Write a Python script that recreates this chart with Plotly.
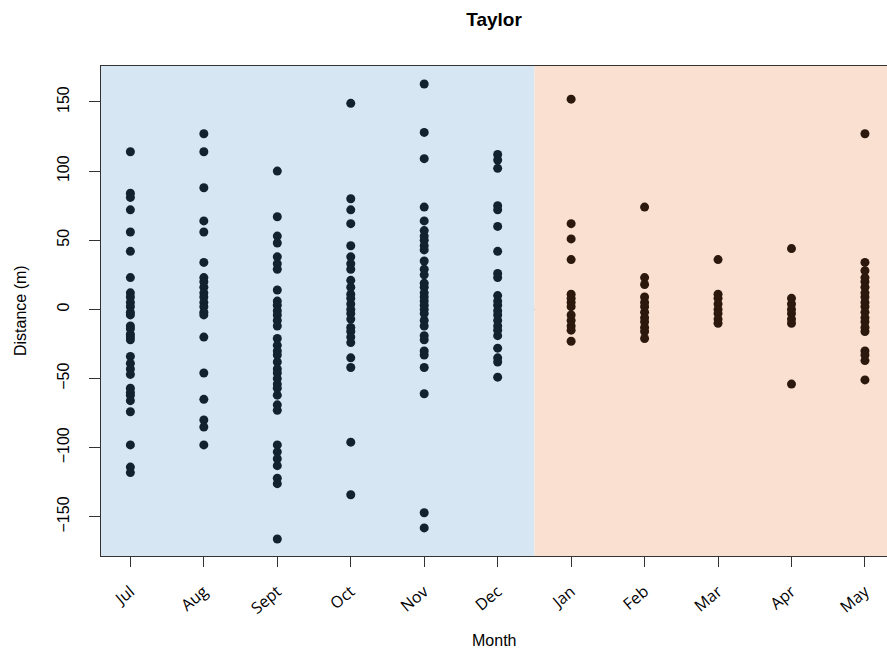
import plotly.graph_objects as go

# Month categories, plotted at positions 1..11
months = ["Jul", "Aug", "Sept", "Oct", "Nov", "Dec", "Jan", "Feb", "Mar", "Apr", "May"]

# Distance (m) observations per month
jul = [114, 84, 81, 72, 56, 42, 23, 12, 9, 5, 2, -2, -4, -12, -14, -18, -20, -22,
       -34, -39, -43, -47, -57, -60, -62, -66, -74, -98, -114, -118]
aug = [127, 114, 88, 64, 56, 34, 23, 20, 16, 12, 9, 5, 2, -2, -4, -20, -46, -65, -80, -85, -98]
sept = [100, 67, 53, 48, 38, 33, 29, 14, 6, 3, -1, -4, -8, -12, -21, -26, -30, -33,
        -38, -43, -46, -50, -54, -57, -62, -69, -73, -98, -103, -108, -113, -122, -126, -166]
octo = [149, 80, 72, 62, 46, 38, 33, 29, 21, 16, 11, 8, 4, 0, -3, -7, -13, -16, -20,
        -24, -35, -42, -96, -134]
nov = [163, 128, 109, 74, 64, 57, 53, 50, 46, 43, 35, 29, 25, 19, 16, 12, 9, 6, 3, 0,
       -3, -8, -12, -19, -22, -30, -33, -42, -61, -147, -158]
dec = [112, 108, 102, 75, 72, 60, 42, 26, 23, 10, 6, 3, -1, -4, -8, -12, -15, -19,
       -28, -35, -38, -49]
jan = [152, 62, 51, 36, 11, 8, 5, 2, -4, -8, -12, -15, -23]
feb = [74, 23, 18, 9, 5, 2, -2, -6, -9, -13, -16, -21]
mar = [36, 11, 8, 4, 0, -3, -7, -10]
apr = [44, 8, 4, 0, -3, -7, -10, -54]
may = [127, 34, 28, 23, 20, 16, 12, 9, 5, 2, -2, -6, -9, -13, -16, -30, -33, -37, -51]

series = [jul, aug, sept, octo, nov, dec, jan, feb, mar, apr, may]

# Season split: first six months on blue, remaining on peach
n_first = 6
point_blue = "#13222f"
point_brown = "#2c180c"
bg_blue = "#d7e6f3"
bg_peach = "#f9e0d0"

xr = [0.6, 11.3]
yr = [-178.3, 176.0]

fig = go.Figure()

for i, vals in enumerate(series):
    pos = i + 1
    fig.add_trace(go.Scatter(
        x=[pos] * len(vals), y=vals, mode="markers",
        marker=dict(size=9, color=point_blue if i < n_first else point_brown,
                    line=dict(width=0)),
        showlegend=False, hoverinfo="y",
    ))

fig.add_shape(type="rect", xref="x", yref="y", x0=xr[0], x1=n_first + 0.5,
              y0=yr[0], y1=yr[1], fillcolor=bg_blue, line=dict(width=0), layer="below")
fig.add_shape(type="rect", xref="x", yref="y", x0=n_first + 0.5, x1=xr[1] + 0.2,
              y0=yr[0], y1=yr[1], fillcolor=bg_peach, line=dict(width=0), layer="below")
# zero reference line, semi-transparent so it takes on each season's tint
fig.add_shape(type="line", xref="paper", yref="y", x0=0, x1=1, y0=0, y1=0,
              line=dict(color="rgba(0,0,0,0.6)", width=1.2), layer="below")

fig.update_layout(
    width=887, height=653,
    margin=dict(l=101, r=0, t=66, b=97),
    paper_bgcolor="white", plot_bgcolor="white",
    font=dict(family="Liberation Sans, Arial, sans-serif", color="#000"),
    title=dict(text="<b>Taylor</b>", x=0.5, xref="paper", y=1 - 19 / 653,
               yref="container", yanchor="middle", xanchor="center",
               font=dict(size=19, family="Liberation Sans, Arial, sans-serif")),
    xaxis=dict(range=xr, tickmode="array", tickvals=list(range(1, len(months) + 1)),
               ticktext=months, tickangle=-40, ticks="outside", ticklen=10,
               tickcolor="#333", showgrid=False, zeroline=False,
               showline=True, linecolor="#333", linewidth=1, mirror=True,
               ticklabelstandoff=9,
               tickfont=dict(family="Open Sans, sans-serif", size=16)),
    yaxis=dict(range=yr, tickmode="array", tickvals=[-150, -100, -50, 0, 50, 100, 150],
               tickangle=-90, ticks="outside", ticklen=11, tickcolor="#333",
               showgrid=False, zeroline=False, showline=True, linecolor="#333",
               linewidth=1, ticklabelstandoff=14,
               tickfont=dict(size=16)),
    annotations=[
        dict(text="Month", xref="paper", yref="paper", x=0.5, y=-(640 - 556) / 490,
             showarrow=False, font=dict(size=16), yanchor="middle"),
        dict(text="Distance (m)", xref="paper", yref="paper", x=-(101 - 20) / 786,
             y=0.5, textangle=-90, showarrow=False, font=dict(size=16),
             xanchor="center", yanchor="middle"),
    ],
)

fig.write_html("out.html")
